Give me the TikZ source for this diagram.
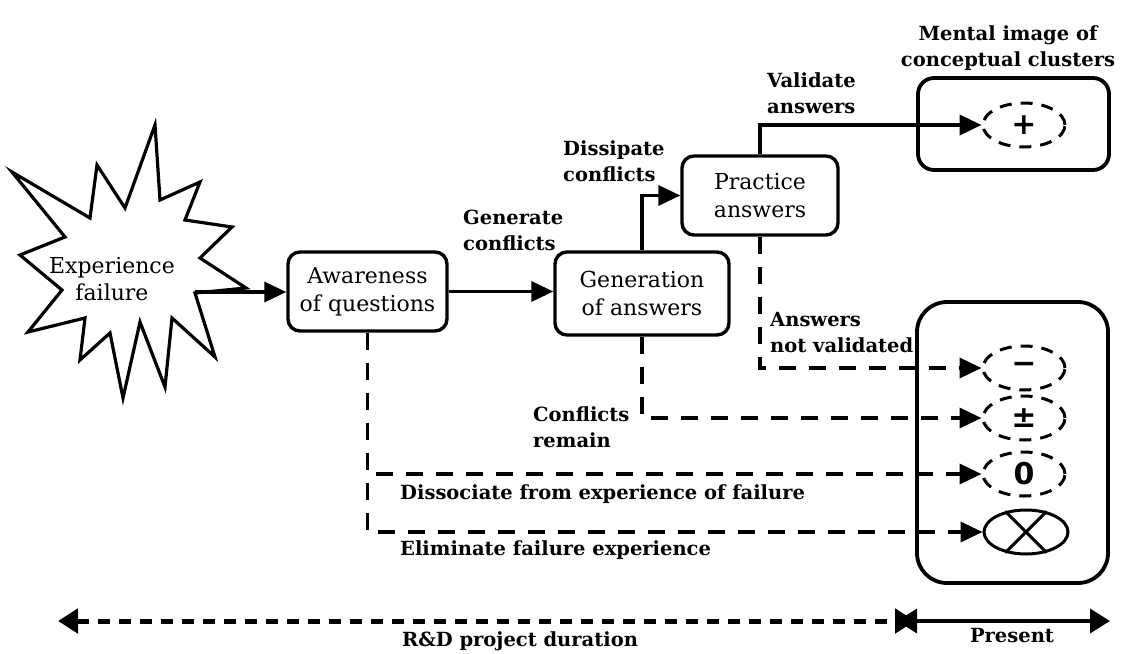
\documentclass[tikz,border=0pt]{standalone}
\usepackage{fontspec}
\setmainfont{DejaVu Serif}
\newfontfamily\symfont{DejaVu Sans}
\usetikzlibrary{arrows.meta,shapes.geometric}

\begin{document}
\begin{tikzpicture}[x=1pt,y=-1pt,
  every node/.style={inner sep=0pt},
  box/.style={draw, line width=3.4pt, rounded corners=12pt, fill=white,
    align=center, font=\fontsize{22}{28}\selectfont},
  panel/.style={draw, line width=3.8pt, fill=white},
  lbl/.style={align=left, anchor=west, font=\fontsize{19.5}{26}\selectfont\bfseries},
  cluster/.style={ellipse, draw, dash pattern=on 12pt off 9pt, line width=3pt,
    minimum width=82pt, minimum height=44pt, font=\fontsize{30}{30}\selectfont\symfont\bfseries},
  arr/.style={line width=3.6pt, -{Triangle[length=22pt,width=20pt]}},
  darr/.style={arr, dash pattern=on 17pt off 13pt},
  timeboth/.style={{Triangle[length=20pt,width=24pt]}-{Triangle[length=20pt,width=24pt]}}
]
\useasboundingbox (0,0) rectangle (1124,653);

% burst shape for the triggering event
\draw[line width=3.2pt, fill=white, line join=miter]
  (155,125) -- (160,200) -- (200,182) -- (185,220) -- (232,227) -- (200,258)
  -- (246,288) -- (195,293) -- (215,357) -- (172,318) -- (165,387) -- (140,322)
  -- (123,398) -- (110,333) -- (80,360) -- (85,318) -- (28,332) -- (62,290)
  -- (20,255) -- (65,237) -- (12,172) -- (90,218) -- (97,165) -- (125,208) -- cycle;
\coordinate (starR) at (195,292);
\node[align=center, font=\fontsize{22}{27}\selectfont] (star) at (112,279) {Experience\\failure};

% process boxes
\node[box, minimum width=159pt, minimum height=79pt] (aw) at (367.5,291.5) {Awareness\\of questions};
\node[box, minimum width=174pt, minimum height=83pt] (gen) at (642,293.5) {Generation\\of answers};
\node[box, minimum width=156pt, minimum height=79pt] (prac) at (760,195.5) {Practice\\answers};

% result panels
\node[panel, rounded corners=16pt, minimum width=191pt, minimum height=92pt] (top) at (1013.5,124) {};
\node[panel, rounded corners=30pt, minimum width=191pt, minimum height=281pt] (bot) at (1012.5,442.5) {};

% conceptual clusters
\node[cluster] (plus) at (1024,125) {+};
\node[cluster] (minus) at (1024,368) {−};
\node[cluster] (pm) at (1024,418) {±};
\node[cluster] (zero) at (1024,474) {0};
\node[ellipse, draw, line width=3pt, minimum width=84pt, minimum height=44pt] (ot) at (1026,532) {};
\draw[line width=3pt] (ot.135) -- (ot.-45) (ot.45) -- (ot.-135);

% connectors
\draw[arr] (starR) -- (starR -| aw.west);
\draw[arr] (aw.east) -- (aw.east -| gen.west);
\draw[arr] (gen.north) |- (prac.west);
\draw[arr] (prac.north) |- (plus.west);
\draw[darr] (prac.south) |- (minus.west);
\draw[darr] (gen.south) |- (pm.west);
\draw[darr] (aw.south) |- (zero.west);
\draw[darr] (aw.south) |- (ot.west);

% connector labels
\node[align=center, font=\fontsize{19.5}{26}\selectfont\bfseries] (mental) at (1008,48) {Mental image of\\conceptual clusters};
\node[lbl] (lval) at (767,93) {Validate\\answers};
\node[lbl] (ldis) at (563,161) {Dissipate\\conflicts};
\node[lbl] (lgen) at (463,230) {Generate\\conflicts};
\node[lbl] (lnot) at (770,333) {Answers\\not validated};
\node[lbl] (lrem) at (533,427) {Conflicts\\remain};
\node[lbl] (ldsc) at (400,494) {Dissociate from experience of failure};
\node[lbl] (lelm) at (400,550) {Eliminate failure experience};

% time axis
\coordinate (tl) at (58,621);
\coordinate (tm) at (915,621);
\coordinate (tms) at (897,621);
\coordinate (tr) at (1110,621);
\draw[line width=5pt, dash pattern=on 12pt off 9pt, timeboth] (tl) -- (tm);
\draw[line width=3.6pt, timeboth] (tms) -- (tr);
\node[font=\fontsize{19.5}{24}\selectfont\bfseries] (ldur) at (520,641) {R\&D project duration};
\node[font=\fontsize{19.5}{24}\selectfont\bfseries] (lpre) at (1012,636) {Present};
\end{tikzpicture}
\end{document}
